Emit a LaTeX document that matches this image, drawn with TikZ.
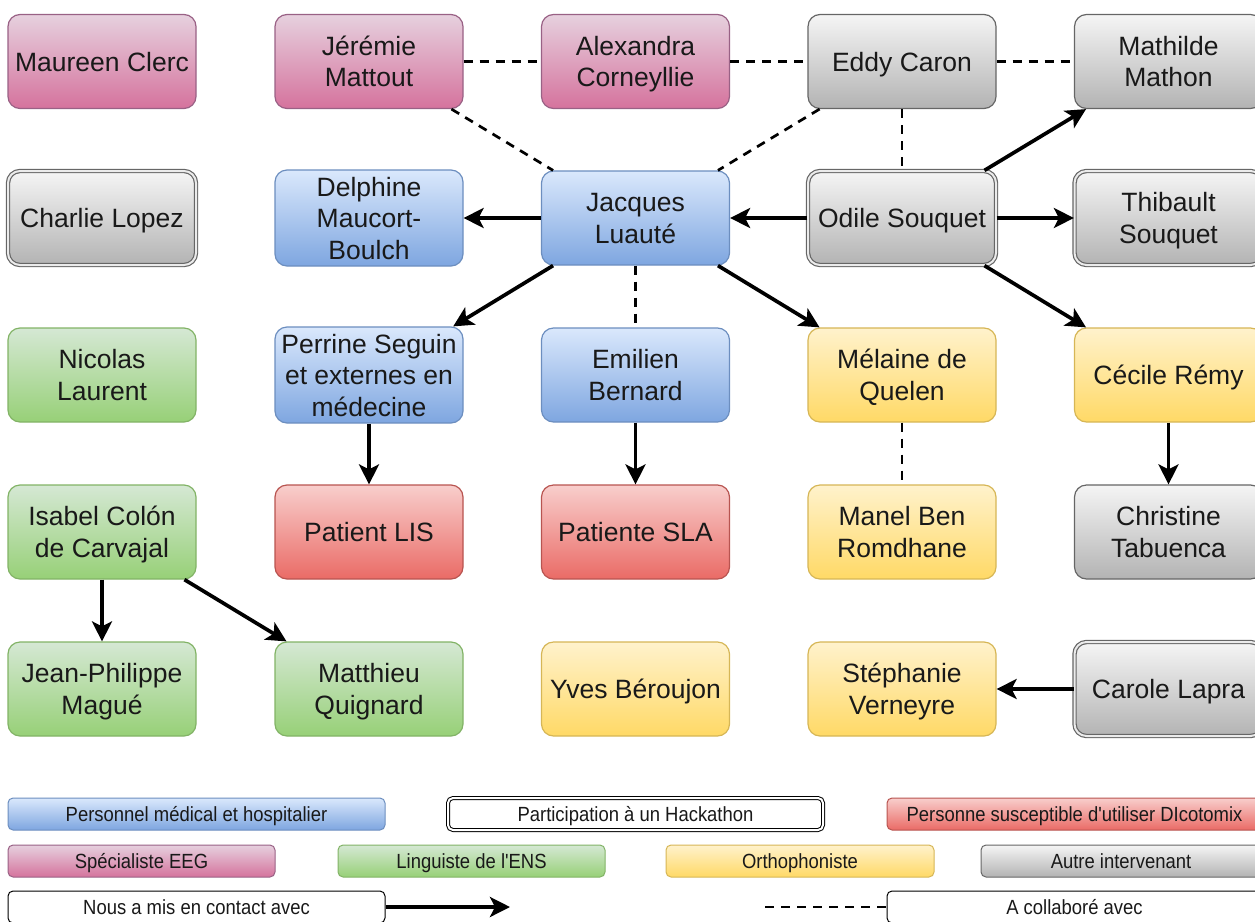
\documentclass[tikz,border=0pt]{standalone}
\usepackage{fontspec}
\setmainfont{Liberation Sans}
\newfontfamily\legendfamily[FakeStretch=0.9]{Liberation Sans}
\usepackage{xcolor}
\usepackage{tikz}
\usetikzlibrary{arrows.meta}
\definecolor{medtop}{HTML}{DAE8FC}
\definecolor{medbot}{HTML}{7EA6E0}
\definecolor{medline}{HTML}{6C8EBF}
\definecolor{eegtop}{HTML}{E6D0DE}
\definecolor{eegbot}{HTML}{D5739D}
\definecolor{eegline}{HTML}{996185}
\definecolor{lingtop}{HTML}{D5E8D4}
\definecolor{lingbot}{HTML}{97D077}
\definecolor{lingline}{HTML}{82B366}
\definecolor{orthotop}{HTML}{FFF2CC}
\definecolor{orthobot}{HTML}{FFD966}
\definecolor{ortholine}{HTML}{D6B656}
\definecolor{pattop}{HTML}{F8CECC}
\definecolor{patbot}{HTML}{EA6B66}
\definecolor{patline}{HTML}{B85450}
\definecolor{othtop}{HTML}{F5F5F5}
\definecolor{othbot}{HTML}{B3B3B3}
\definecolor{othline}{HTML}{666666}
\tikzset{
  person/.style={rectangle, rounded corners=12pt, minimum width=188pt, minimum height=94pt,
    inner sep=0pt, text width=188pt, align=flush center, line width=1.2pt, text=black!90,
    font=\fontsize{26.5}{31.5}\selectfont,
    execute at begin node={\rule{0pt}{26pt}},
    execute at end node={\rule[-7pt]{0pt}{7pt}}},
  keybox/.style={rectangle, rounded corners=5pt, minimum height=32pt, inner sep=0pt,
    line width=1pt, text=black!90, font=\legendfamily\fontsize{20.5}{24}\selectfont,
    execute at begin node={\rule{0pt}{19pt}},
    execute at end node={\rule[-4.3pt]{0pt}{4.3pt}}},
  med/.style={draw=medline, top color=medtop, bottom color=medbot},
  eeg/.style={draw=eegline, top color=eegtop, bottom color=eegbot},
  ling/.style={draw=lingline, top color=lingtop, bottom color=lingbot},
  ortho/.style={draw=ortholine, top color=orthotop, bottom color=orthobot},
  patient/.style={draw=patline, top color=pattop, bottom color=patbot},
  other/.style={draw=othline, top color=othtop, bottom color=othbot},
  hack/.style={double=white!92!black, double distance=2pt},
  contact/.style={line width=3.7pt, -{Stealth[length=20pt, width=20pt, inset=5pt]}},
  collab/.style={line width=2.7pt, dash pattern=on 9pt off 7pt}
}

\begin{document}
\begin{tikzpicture}[x=1pt, y=-1pt]
\useasboundingbox (0,0) rectangle (1255,921);
% row 1
\node[person, eeg] (clerc) at (102,61.5) {Maureen Clerc};
\node[person, eeg] (mattout) at (369,61.5) {Jérémie\\Mattout};
\node[person, eeg] (corneyllie) at (635.5,61.5) {Alexandra\\Corneyllie};
\node[person, other] (caron) at (902,61.5) {Eddy Caron};
\node[person, other] (mathon) at (1168.5,61.5) {Mathilde\\Mathon};
% row 2
\node[person, other, hack] (lopez) at (102,218) {Charlie Lopez};
\node[person, med] (maucort) at (369,218) {Delphine\\Maucort-\\Boulch};
\node[person, med] (luaute) at (635.5,218) {Jacques\\Luauté};
\node[person, other, hack] (osouquet) at (902,218) {Odile Souquet};
\node[person, other, hack] (tsouquet) at (1168.5,218) {Thibault\\Souquet};
% row 3
\node[person, ling] (laurent) at (102,375) {Nicolas\\Laurent};
\node[person, med] (seguin) at (369,375) {Perrine Seguin\\et externes en\\médecine};
\node[person, med] (bernard) at (635.5,375) {Emilien\\Bernard};
\node[person, ortho] (quelen) at (902,375) {Mélaine de\\Quelen};
\node[person, ortho] (remy) at (1168.5,375) {Cécile Rémy};
% row 4
\node[person, ling] (colon) at (102,532) {Isabel Colón\\de Carvajal};
\node[person, patient] (lis) at (369,532) {Patient LIS};
\node[person, patient] (sla) at (635.5,532) {Patiente SLA};
\node[person, ortho] (romdhane) at (902,532) {Manel Ben\\Romdhane};
\node[person, other] (tabuenca) at (1168.5,532) {Christine\\Tabuenca};
% row 5
\node[person, ling] (mague) at (102,689) {Jean-Philippe\\Magué};
\node[person, ling] (quignard) at (369,689) {Matthieu\\Quignard};
\node[person, ortho] (beroujon) at (635.5,689) {Yves Béroujon};
\node[person, ortho] (verneyre) at (902,689) {Stéphanie\\Verneyre};
\node[person, other, hack] (lapra) at (1168.5,689) {Carole Lapra};

% collaborations
\draw[collab] (mattout) -- (corneyllie);
\draw[collab] (corneyllie) -- (caron);
\draw[collab] (caron) -- (mathon);
\draw[collab] (mattout.-30) -- (luaute.150);
\draw[collab] (caron.-150) -- (luaute.30);
\draw[collab] (caron) -- (osouquet);
\draw[collab] (luaute) -- (bernard);
\draw[collab] (quelen) -- (romdhane);

% contacts
\draw[contact] (luaute) -- (maucort);
\draw[contact] (osouquet) -- (luaute);
\draw[contact] (osouquet) -- (tsouquet);
\draw[contact] (osouquet.30) -- (mathon.-150);
\draw[contact] (osouquet.-30) -- (remy.150);
\draw[contact] (luaute.-150) -- (seguin.30);
\draw[contact] (luaute.-30) -- (quelen.150);
\draw[contact] (seguin) -- (lis);
\draw[contact] (bernard) -- (sla);
\draw[contact] (remy) -- (tabuenca);
\draw[contact] (colon) -- (mague);
\draw[contact] (colon.-30) -- (quignard.150);
\draw[contact] (lapra) -- (verneyre);

% legend
\node[keybox, med, minimum width=377pt] (kmed) at (196.5,814) {Personnel médical et hospitalier};
\node[keybox, draw=black, fill=white, hack, double=white, minimum width=375pt] (khack) at (635.5,814) {Participation à un Hackathon};
\node[keybox, patient, minimum width=375pt] (kpatient) at (1074.5,814) {Personne susceptible d'utiliser DIcotomix};
\node[keybox, eeg, minimum width=267pt] (keeg) at (141.5,861) {Spécialiste EEG};
\node[keybox, ling, minimum width=267pt] (kling) at (471.5,861) {Linguiste de l'ENS};
\node[keybox, ortho, minimum width=268pt] (kortho) at (800,861) {Orthophoniste};
\node[keybox, other, minimum width=280pt] (kother) at (1121,861) {Autre intervenant};
\node[keybox, draw=black, fill=white, minimum width=377pt] (kcontact) at (196.5,907) {Nous a mis en contact avec};
\node[keybox, draw=black, fill=white, minimum width=375pt] (kcollab) at (1074.5,907) {A collaboré avec};
\coordinate (kcontactend) at (510,907);
\coordinate (kcollabstart) at (765,907);
\draw[contact] (kcontact) -- (kcontactend);
\draw[collab] (kcollabstart) -- (kcollab);
\end{tikzpicture}
\end{document}
